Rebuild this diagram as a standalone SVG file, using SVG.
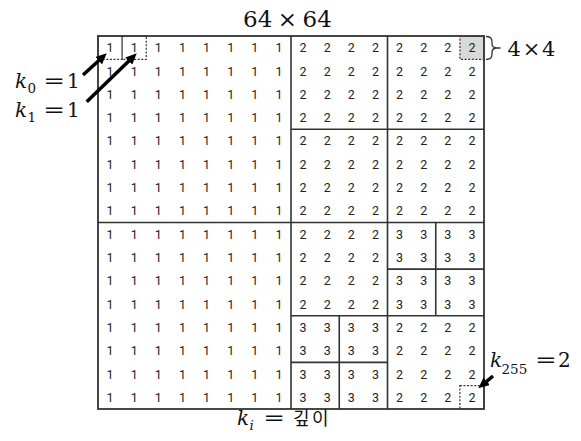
<svg xmlns="http://www.w3.org/2000/svg" width="581" height="441" viewBox="0 0 581 441">
<style>
.grid line,.grid rect{stroke:#333;stroke-width:1.6;fill:none}
.dot{stroke:#333;stroke-width:1.2;stroke-dasharray:2 1.6}
.arr{stroke:#000;stroke-width:3.5;fill:none;marker-end:url(#ah)}
</style>
<defs>
<marker id="ah" viewBox="0 0 11 10" refX="4" refY="5" markerWidth="11" markerHeight="10" markerUnits="userSpaceOnUse" orient="auto" preserveAspectRatio="none">
<path d="M0,0 L11,5 L0,10 z" fill="#000"/>
</marker>
</defs>
<rect width="581" height="441" fill="#fff"/>

<g id="highlight-cells">
<rect x="459.9" y="36" width="24.1" height="23.3" class="dot" style="fill:#d9d9d9"/>
<rect x="98" y="36" width="24.1" height="23.3" class="dot" style="fill:none"/>
<rect x="122.1" y="36" width="24.15" height="23.3" class="dot" style="fill:none"/>
<rect x="459.9" y="385.7" width="24.1" height="23.3" class="dot" style="fill:none"/>
</g>

<g id="grid" class="grid">
<rect x="98" y="36" width="386" height="373" style="stroke-width:1.8"/>
<line x1="291" y1="36" x2="291" y2="409"/>
<line x1="98" y1="222.5" x2="484" y2="222.5"/>
<line x1="387.5" y1="36" x2="387.5" y2="409"/>
<line x1="291" y1="129.25" x2="484" y2="129.25"/>
<line x1="291" y1="315.75" x2="484" y2="315.75"/>
<line x1="435.75" y1="222.5" x2="435.75" y2="315.75"/>
<line x1="387.5" y1="269.1" x2="484" y2="269.1"/>
<line x1="339.25" y1="315.75" x2="339.25" y2="409"/>
<line x1="291" y1="362.4" x2="387.5" y2="362.4"/>
</g>

<g id="cells" font-family="Roboto, Arial, sans-serif" font-size="12.5" fill="#222" text-anchor="middle">
<g transform="translate(0,52.2)"><text x="110.1">1</text><text x="134.2">1</text><text x="158.3">1</text><text x="182.4">1</text><text x="206.6">1</text><text x="230.7">1</text><text x="254.8">1</text><text x="278.9">1</text><text x="303.1">2</text><text x="327.2">2</text><text x="351.3">2</text><text x="375.4">2</text><text x="399.6">2</text><text x="423.7">2</text><text x="447.8">2</text><text x="471.9">2</text></g>
<g transform="translate(0,75.5)"><text x="110.1">1</text><text x="134.2">1</text><text x="158.3">1</text><text x="182.4">1</text><text x="206.6">1</text><text x="230.7">1</text><text x="254.8">1</text><text x="278.9">1</text><text x="303.1">2</text><text x="327.2">2</text><text x="351.3">2</text><text x="375.4">2</text><text x="399.6">2</text><text x="423.7">2</text><text x="447.8">2</text><text x="471.9">2</text></g>
<g transform="translate(0,98.8)"><text x="110.1">1</text><text x="134.2">1</text><text x="158.3">1</text><text x="182.4">1</text><text x="206.6">1</text><text x="230.7">1</text><text x="254.8">1</text><text x="278.9">1</text><text x="303.1">2</text><text x="327.2">2</text><text x="351.3">2</text><text x="375.4">2</text><text x="399.6">2</text><text x="423.7">2</text><text x="447.8">2</text><text x="471.9">2</text></g>
<g transform="translate(0,122.1)"><text x="110.1">1</text><text x="134.2">1</text><text x="158.3">1</text><text x="182.4">1</text><text x="206.6">1</text><text x="230.7">1</text><text x="254.8">1</text><text x="278.9">1</text><text x="303.1">2</text><text x="327.2">2</text><text x="351.3">2</text><text x="375.4">2</text><text x="399.6">2</text><text x="423.7">2</text><text x="447.8">2</text><text x="471.9">2</text></g>
<g transform="translate(0,145.4)"><text x="110.1">1</text><text x="134.2">1</text><text x="158.3">1</text><text x="182.4">1</text><text x="206.6">1</text><text x="230.7">1</text><text x="254.8">1</text><text x="278.9">1</text><text x="303.1">2</text><text x="327.2">2</text><text x="351.3">2</text><text x="375.4">2</text><text x="399.6">2</text><text x="423.7">2</text><text x="447.8">2</text><text x="471.9">2</text></g>
<g transform="translate(0,168.7)"><text x="110.1">1</text><text x="134.2">1</text><text x="158.3">1</text><text x="182.4">1</text><text x="206.6">1</text><text x="230.7">1</text><text x="254.8">1</text><text x="278.9">1</text><text x="303.1">2</text><text x="327.2">2</text><text x="351.3">2</text><text x="375.4">2</text><text x="399.6">2</text><text x="423.7">2</text><text x="447.8">2</text><text x="471.9">2</text></g>
<g transform="translate(0,192)"><text x="110.1">1</text><text x="134.2">1</text><text x="158.3">1</text><text x="182.4">1</text><text x="206.6">1</text><text x="230.7">1</text><text x="254.8">1</text><text x="278.9">1</text><text x="303.1">2</text><text x="327.2">2</text><text x="351.3">2</text><text x="375.4">2</text><text x="399.6">2</text><text x="423.7">2</text><text x="447.8">2</text><text x="471.9">2</text></g>
<g transform="translate(0,215.3)"><text x="110.1">1</text><text x="134.2">1</text><text x="158.3">1</text><text x="182.4">1</text><text x="206.6">1</text><text x="230.7">1</text><text x="254.8">1</text><text x="278.9">1</text><text x="303.1">2</text><text x="327.2">2</text><text x="351.3">2</text><text x="375.4">2</text><text x="399.6">2</text><text x="423.7">2</text><text x="447.8">2</text><text x="471.9">2</text></g>
<g transform="translate(0,238.7)"><text x="110.1">1</text><text x="134.2">1</text><text x="158.3">1</text><text x="182.4">1</text><text x="206.6">1</text><text x="230.7">1</text><text x="254.8">1</text><text x="278.9">1</text><text x="303.1">2</text><text x="327.2">2</text><text x="351.3">2</text><text x="375.4">2</text><text x="399.6">3</text><text x="423.7">3</text><text x="447.8">3</text><text x="471.9">3</text></g>
<g transform="translate(0,262)"><text x="110.1">1</text><text x="134.2">1</text><text x="158.3">1</text><text x="182.4">1</text><text x="206.6">1</text><text x="230.7">1</text><text x="254.8">1</text><text x="278.9">1</text><text x="303.1">2</text><text x="327.2">2</text><text x="351.3">2</text><text x="375.4">2</text><text x="399.6">3</text><text x="423.7">3</text><text x="447.8">3</text><text x="471.9">3</text></g>
<g transform="translate(0,285.3)"><text x="110.1">1</text><text x="134.2">1</text><text x="158.3">1</text><text x="182.4">1</text><text x="206.6">1</text><text x="230.7">1</text><text x="254.8">1</text><text x="278.9">1</text><text x="303.1">2</text><text x="327.2">2</text><text x="351.3">2</text><text x="375.4">2</text><text x="399.6">3</text><text x="423.7">3</text><text x="447.8">3</text><text x="471.9">3</text></g>
<g transform="translate(0,308.6)"><text x="110.1">1</text><text x="134.2">1</text><text x="158.3">1</text><text x="182.4">1</text><text x="206.6">1</text><text x="230.7">1</text><text x="254.8">1</text><text x="278.9">1</text><text x="303.1">2</text><text x="327.2">2</text><text x="351.3">2</text><text x="375.4">2</text><text x="399.6">3</text><text x="423.7">3</text><text x="447.8">3</text><text x="471.9">3</text></g>
<g transform="translate(0,331.9)"><text x="110.1">1</text><text x="134.2">1</text><text x="158.3">1</text><text x="182.4">1</text><text x="206.6">1</text><text x="230.7">1</text><text x="254.8">1</text><text x="278.9">1</text><text x="303.1">3</text><text x="327.2">3</text><text x="351.3">3</text><text x="375.4">3</text><text x="399.6">2</text><text x="423.7">2</text><text x="447.8">2</text><text x="471.9">2</text></g>
<g transform="translate(0,355.2)"><text x="110.1">1</text><text x="134.2">1</text><text x="158.3">1</text><text x="182.4">1</text><text x="206.6">1</text><text x="230.7">1</text><text x="254.8">1</text><text x="278.9">1</text><text x="303.1">3</text><text x="327.2">3</text><text x="351.3">3</text><text x="375.4">3</text><text x="399.6">2</text><text x="423.7">2</text><text x="447.8">2</text><text x="471.9">2</text></g>
<g transform="translate(0,378.5)"><text x="110.1">1</text><text x="134.2">1</text><text x="158.3">1</text><text x="182.4">1</text><text x="206.6">1</text><text x="230.7">1</text><text x="254.8">1</text><text x="278.9">1</text><text x="303.1">3</text><text x="327.2">3</text><text x="351.3">3</text><text x="375.4">3</text><text x="399.6">2</text><text x="423.7">2</text><text x="447.8">2</text><text x="471.9">2</text></g>
<g transform="translate(0,401.8)"><text x="110.1">1</text><text x="134.2">1</text><text x="158.3">1</text><text x="182.4">1</text><text x="206.6">1</text><text x="230.7">1</text><text x="254.8">1</text><text x="278.9">1</text><text x="303.1">3</text><text x="327.2">3</text><text x="351.3">3</text><text x="375.4">3</text><text x="399.6">2</text><text x="423.7">2</text><text x="447.8">2</text><text x="471.9">2</text></g>
</g>

<g id="labels" fill="#111" font-family="DejaVu Serif, serif">
<g id="title">
<text x="243" y="27.3" font-size="23">64</text>
<text x="287.5" y="27" font-size="23" text-anchor="middle">×</text>
<text x="302.5" y="27.3" font-size="23">64</text>
</g>
<g id="block-label">
<path d="M486,36.5 Q492,36.5 492,41.5 L492,43.5 Q492,48 497,48 L500.5,48 M497,48 Q492,48 492,52.5 L492,54.5 Q492,59.5 486,59.5" fill="none" stroke="#333" stroke-width="1.3"/>
<text x="507.5" y="56" font-size="21">4</text>
<text x="531.5" y="55.5" font-size="21" text-anchor="middle">×</text>
<text x="542" y="56" font-size="21">4</text>
</g>
<g id="label-k0">
<text x="15" y="88.3" font-size="20" font-style="italic">k</text>
<text x="27.5" y="93.3" font-size="13.5">0</text>
<text transform="translate(54.2,88.3) scale(1.3,1)" font-size="20" text-anchor="middle">=</text>
<text x="67" y="88.3" font-size="20">1</text>
</g>
<g id="label-k1">
<text x="15" y="116.7" font-size="20" font-style="italic">k</text>
<text x="27.5" y="121.7" font-size="13.5">1</text>
<text transform="translate(54.2,116.7) scale(1.3,1)" font-size="20" text-anchor="middle">=</text>
<text x="67" y="116.7" font-size="20">1</text>
</g>
<g id="label-k255">
<text x="490" y="366.7" font-size="20" font-style="italic">k</text>
<text x="501.5" y="374" font-size="13.5">255</text>
<text transform="translate(545.8,366.7) scale(1.3,1)" font-size="20" text-anchor="middle">=</text>
<text x="558" y="366.7" font-size="20">2</text>
</g>
<g id="label-ki">
<text x="237" y="424.5" font-size="20" font-style="italic">k</text>
<text x="249.5" y="430" font-size="13.5" font-style="italic">i</text>
<text transform="translate(274.2,424.5) scale(1.3,1)" font-size="20" text-anchor="middle">=</text>
<text x="293" y="424.5" font-size="18" letter-spacing="2.5" font-family="Noto Sans CJK KR, Noto Sans CJK SC, sans-serif">깊이</text>
</g>
</g>

<g id="connectors">
<line class="arr" x1="83" y1="75" x2="101.6" y2="58"/>
<line class="arr" x1="86.7" y1="101.7" x2="131.7" y2="58.2"/>
<line class="arr" x1="493" y1="376" x2="483.7" y2="383.8"/>
</g>
</svg>
